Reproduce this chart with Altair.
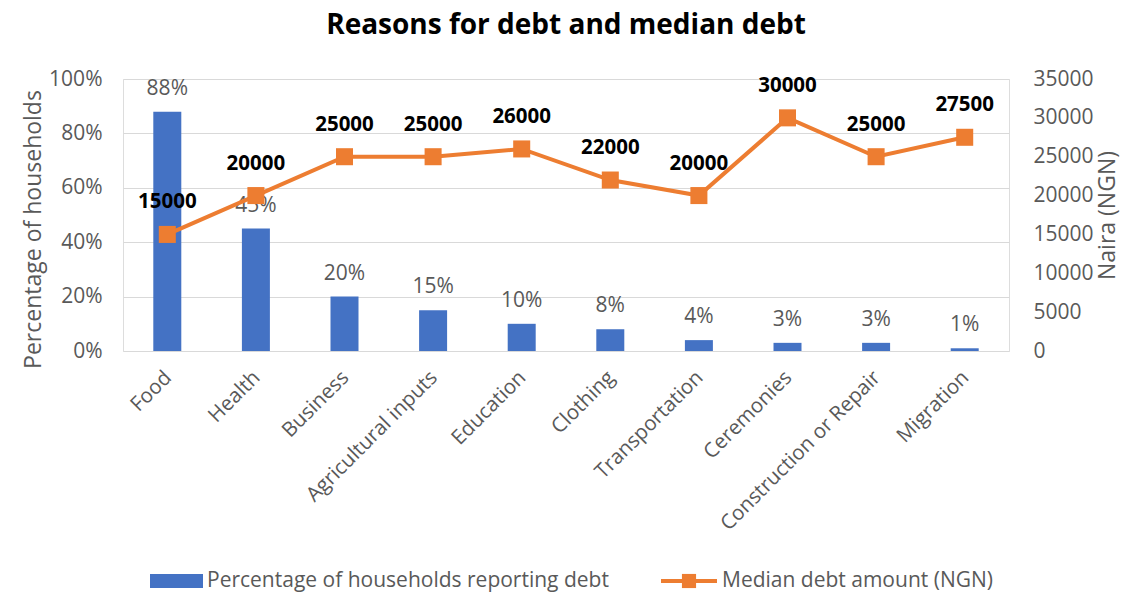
import altair as alt
import pandas as pd

categories = ["Food", "Health", "Business", "Agricultural inputs", "Education",
              "Clothing", "Transportation", "Ceremonies", "Construction or Repair", "Migration"]
pct_households = [88, 45, 20, 15, 10, 8, 4, 3, 3, 1]
median_debt = [15000, 20000, 25000, 25000, 26000, 22000, 20000, 30000, 25000, 27500]

FONT = "Open Sans"
GREY = "#595959"
BLUE = "#4472C4"
ORANGE = "#ED7D31"

df = pd.DataFrame({
    "category": categories,
    "pct": [p / 100 for p in pct_households],
    "pct_label": [f"{p}%" for p in pct_households],
    "debt": median_debt,
})

W, H = 886, 272

x = alt.X("category:N", sort=categories, title=None,
          scale=alt.Scale(paddingInner=0, paddingOuter=0),
          axis=alt.Axis(labelAngle=-45, labelFontSize=20.5, labelColor=GREY, labelFont=FONT,
                        domain=False, ticks=False, labelPadding=16, labelOffset=-6,
                        labelLimit=300))

y_left = alt.Y("pct:Q", title="Percentage of households",
               scale=alt.Scale(domain=[0, 1]),
               axis=alt.Axis(format=".0%", values=[0, 0.2, 0.4, 0.6, 0.8, 1.0],
                             labelFontSize=21, labelColor=GREY, labelFont=FONT,
                             titleFontSize=23, titleColor=GREY, titleFont=FONT,
                             titleFontWeight="normal", titlePadding=3, titleY=150,
                             domain=False, ticks=False, labelPadding=21,
                             grid=True, gridColor="#D9D9D9"))

y_right = alt.Y("debt:Q", title="Naira (NGN)",
                scale=alt.Scale(domain=[0, 35000]),
                axis=alt.Axis(orient="right", values=list(range(0, 35001, 5000)), format="d",
                              labelFontSize=21, labelColor=GREY, labelFont=FONT,
                              titleFontSize=23, titleColor=GREY, titleFont=FONT,
                              titleFontWeight="normal", titlePadding=3, titleAngle=270,
                              titleBaseline="top",
                              domain=False, ticks=False, labelPadding=24, grid=False))

base = alt.Chart(df)

bars = base.mark_bar(size=28, color=BLUE).encode(x=x, y=y_left)
bar_text = base.mark_text(font=FONT, fontSize=21, color=GREY, baseline="bottom", dy=-13).encode(
    x=x, y=y_left, text="pct_label:N")

line = base.mark_line(color=ORANGE, strokeWidth=4).encode(x=x, y=y_right)
points = base.mark_point(shape="square", filled=True, opacity=1, size=290, color=ORANGE).encode(x=x, y=y_right)
line_text = base.mark_text(font=FONT, fontSize=20.5, fontWeight="bold", color="black",
                           baseline="bottom", dy=-22).encode(x=x, y=y_right, text="debt:Q")

left_layer = alt.layer(bars, bar_text)
right_layer = alt.layer(line, points, line_text)

leg = pd.DataFrame({"a": [0]})
lg = alt.Chart(leg)
leg_rect = lg.mark_rect(color=BLUE).encode(x=alt.value(27), x2=alt.value(80),
                                           y=alt.value(495), y2=alt.value(509))
leg_text1 = lg.mark_text(font=FONT, fontSize=21, color=GREY, align="left", baseline="middle").encode(
    x=alt.value(84), y=alt.value(502), text=alt.value("Percentage of households reporting debt"))
leg_line = lg.mark_rule(color=ORANGE, strokeWidth=4).encode(x=alt.value(538), x2=alt.value(594),
                                                           y=alt.value(502))
leg_pt = lg.mark_point(shape="square", filled=True, opacity=1, size=200, color=ORANGE).encode(
    x=alt.value(566), y=alt.value(502))
leg_text2 = lg.mark_text(font=FONT, fontSize=21, color=GREY, align="left", baseline="middle").encode(
    x=alt.value(599), y=alt.value(502), text=alt.value("Median debt amount (NGN)"))

chart = alt.layer(left_layer, right_layer, leg_rect, leg_text1, leg_line, leg_pt, leg_text2).resolve_scale(
    y="independent"
).properties(
    width=W, height=H,
    title=alt.TitleParams("Reasons for debt and median debt", font=FONT, fontSize=28,
                          fontWeight="bold", color="black", anchor="middle", offset=28),
    autosize=alt.AutoSizeParams(type="none"),
    padding={"left": 123, "top": 79, "right": 121, "bottom": 244},
).configure_view(stroke=None).configure(background="white")

chart.save("out.html", embed_options={"renderer": "svg", "actions": False})
